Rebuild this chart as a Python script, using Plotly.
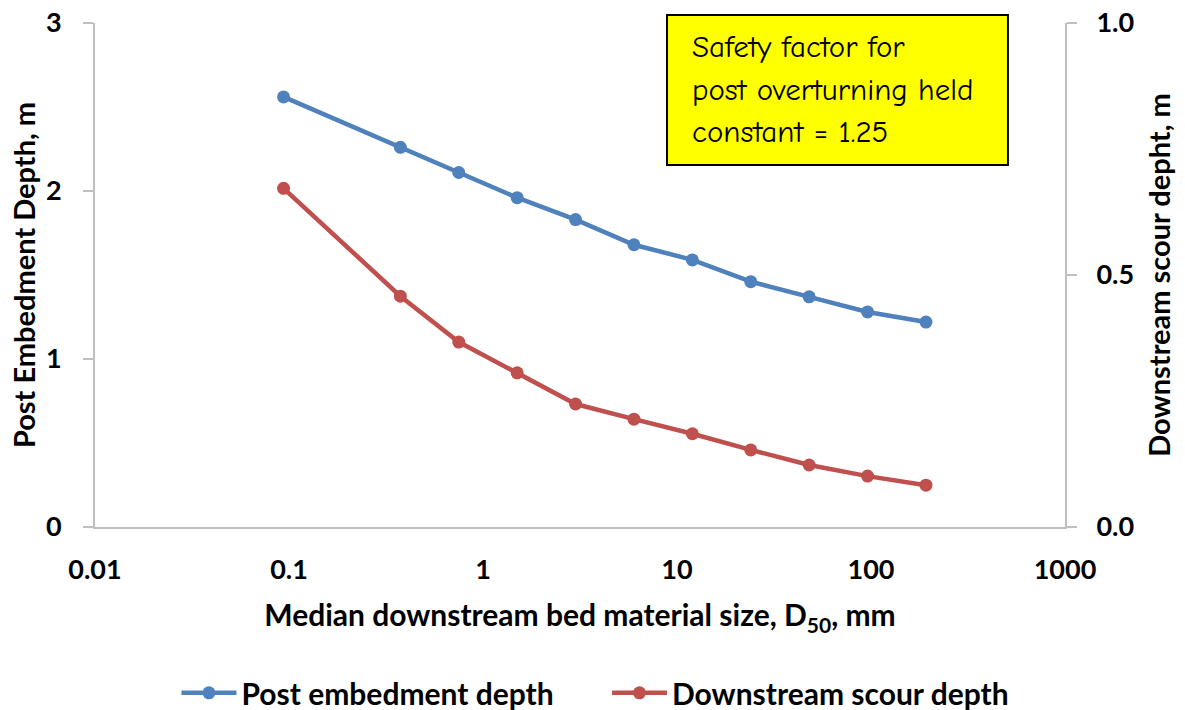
import plotly.graph_objects as go

d50_mm = [0.09375, 0.375, 0.75, 1.5, 3, 6, 12, 24, 48, 96, 192]
post_embedment_depth = [2.56, 2.26, 2.11, 1.96, 1.83, 1.68, 1.59, 1.46, 1.37, 1.28, 1.22]
downstream_scour_depth = [0.672, 0.458, 0.367, 0.306, 0.244, 0.214, 0.185, 0.153, 0.123, 0.101, 0.083]

x_tickvals = [0.01, 0.1, 1, 10, 100, 1000]
x_ticktext = ["0.01", "0.1", "1", "10", "100", "1000"]
left_tickvals = [0, 1, 2, 3]
right_tickvals = [0.0, 0.5, 1.0]
right_ticktext = ["0.0", "0.5", "1.0"]
note_lines = ["Safety factor for", "post overturning held", "constant = 1.25"]

BLUE = "#4F81BD"
RED = "#C0504D"
AXIS = "#BFBFBF"
FONT = "Lato, Carlito, Calibri, 'Open Sans', sans-serif"
TICKFONT = dict(family=FONT, size=27, color="black", weight="bold")
YTITLEFONT = dict(family=FONT, size=29, color="black", weight="bold")
XTITLEFONT = dict(family=FONT, size=30, color="black", weight="bold")
LEGENDFONT = dict(family=FONT, size=30, color="black", weight="bold")

fig = go.Figure()
fig.add_trace(go.Scatter(
    x=d50_mm, y=post_embedment_depth, name="Post embedment depth",
    mode="lines+markers", line=dict(color=BLUE, width=4.5),
    marker=dict(color=BLUE, size=13), yaxis="y", legend="legend"))
fig.add_trace(go.Scatter(
    x=d50_mm, y=downstream_scour_depth, name="Downstream scour depth",
    mode="lines+markers", line=dict(color=RED, width=4.5),
    marker=dict(color=RED, size=13), yaxis="y2", legend="legend2"))

fig.update_layout(
    width=1185, height=710,
    margin=dict(l=95, r=120, t=23, b=183, autoexpand=False),
    paper_bgcolor="white", plot_bgcolor="white",
    font=dict(family=FONT, color="black", size=22),
    showlegend=True,
    legend=dict(orientation="h", x=0.2814, xanchor="center", y=-0.329, yanchor="middle",
                font=LEGENDFONT, itemwidth=55, bgcolor="rgba(0,0,0,0)"),
    legend2=dict(orientation="h", x=0.7376, xanchor="center", y=-0.329, yanchor="middle",
                 font=LEGENDFONT, itemwidth=55, bgcolor="rgba(0,0,0,0)"),
    xaxis=dict(type="log", range=[-2, 3], tickvals=x_tickvals, ticktext=x_ticktext,
               automargin=False,
               showgrid=False, zeroline=False, showline=True, linecolor=AXIS, linewidth=2,
               ticks="", tickfont=TICKFONT, ticklabelstandoff=18,
               title=dict(text="Median downstream bed material size, D<sub>50</sub>, mm",
                          font=XTITLEFONT, standoff=21)),
    yaxis=dict(range=[0, 3], tickvals=left_tickvals, showgrid=False, zeroline=False,
               automargin=False,
               showline=True, linecolor=AXIS, linewidth=2, ticks="outside", ticklen=10,
               tickcolor=AXIS, tickwidth=2, tickfont=TICKFONT, ticklabelstandoff=16,
               title=dict(text="Post Embedment Depth, m", font=YTITLEFONT, standoff=2)),
    yaxis2=dict(range=[0, 1], tickvals=right_tickvals, ticktext=right_ticktext,
                automargin=False,
                overlaying="y", side="right", showgrid=False, zeroline=False,
                showline=True, linecolor=AXIS, linewidth=2, ticks="outside", ticklen=10,
                tickcolor=AXIS, tickwidth=2, tickfont=TICKFONT, ticklabelstandoff=14,
                title=dict(text="Downstream scour depht, m", font=YTITLEFONT, standoff=17)),
)

# note box
fig.add_shape(type="rect", xref="paper", yref="paper",
              x0=0.5897, x1=0.9412, y0=0.7183, y1=1.0159,
              fillcolor="#FFFF00", line=dict(color="black", width=2), layer="above")
line_y = [0.952, 0.867, 0.784]
for txt, yy in zip(note_lines, line_y):
    fig.add_annotation(xref="paper", yref="paper", x=0.613, y=yy, xanchor="left",
                       yanchor="middle", text=txt, showarrow=False, align="left",
                       font=dict(family="'Comic Sans MS', 'Comic Neue', 'Noto Sans', sans-serif",
                                 size=31, color="black"))

fig.write_html("out.html", config={"displayModeBar": False},
               post_script="document.body.style.margin='0';")
